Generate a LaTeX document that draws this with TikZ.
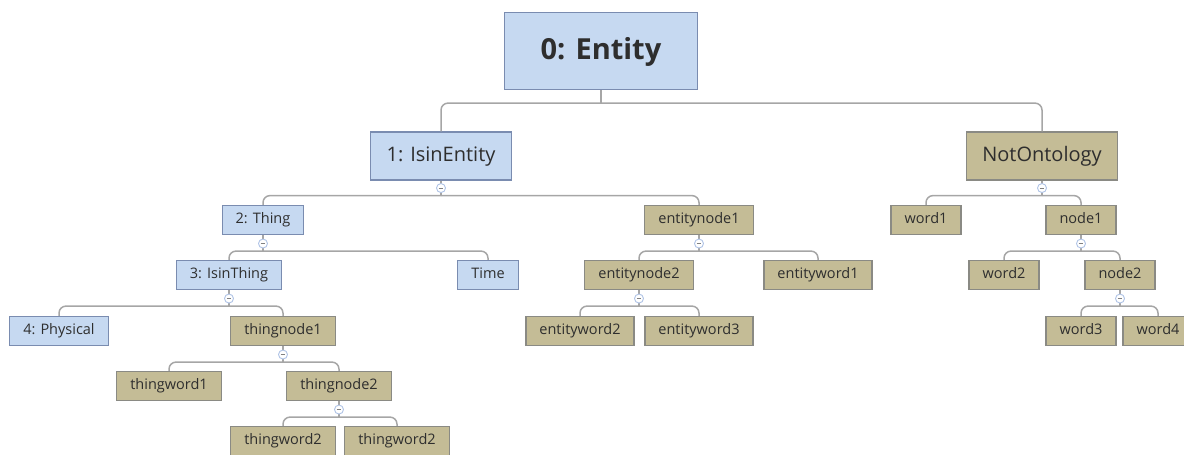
\documentclass[tikz,border=0pt]{standalone}
\usepackage{fontspec}
\setmainfont{Open Sans}
\usetikzlibrary{positioning}

\definecolor{bluefill}{HTML}{C6D9F1}
\definecolor{blueline}{HTML}{7A8CB0}
\definecolor{brownfill}{HTML}{C4BC96}
\definecolor{brownline}{HTML}{8A8A84}
\definecolor{linkgray}{HTML}{A6A6A6}
\definecolor{foldblue}{HTML}{AFC3E6}
\definecolor{txt}{HTML}{2E2E2E}

\begin{document}
\begin{tikzpicture}
  [
    x=1pt, y=1pt,
    topic/.style={draw, rectangle, line width=1.2pt, text=txt, inner ysep=0pt},
    small/.style={topic, inner xsep=13.5pt, minimum height=29pt, text height=11pt, text depth=3.5pt, font=\fontsize{14.5}{17}\selectfont},
    big/.style={topic, inner xsep=16pt, minimum height=48pt, text height=15pt, text depth=4.5pt, font=\fontsize{20}{24}\selectfont},
    root/.style={topic, inner xsep=36pt, minimum height=77pt, text height=22pt, text depth=6pt, font=\fontsize{29}{34}\selectfont\bfseries},
    cls/.style={fill=bluefill, draw=blueline},
    word/.style={fill=brownfill, draw=brownline},
    link/.style={draw=linkgray, line width=1.5pt, rounded corners=7pt},
    fold/.style={circle, draw=foldblue, fill=white, line width=0.9pt, minimum size=9pt, inner sep=0pt,
      path picture={\draw[gray, line width=0.8pt] ([xshift=-2.3pt]path picture bounding box.center) -- ([xshift=2.3pt]path picture bounding box.center);}},
    node distance=55pt
  ]
  \useasboundingbox (0,0) rectangle (1184,-455);

  % level 0 and 1
  \node (entity) [root, cls] at (601,-51) {0: Entity};
  \node (isin) [big, cls, below of=entity, node distance=105pt, xshift=-160pt] {1: IsinEntity};
  \node (notont) [big, word, below of=entity, node distance=105pt, xshift=441pt] {NotOntology};

  % level 2
  \node (thing) [small, cls, below of=isin, node distance=64pt, xshift=-178pt] {2: Thing};
  \node (enode1) [small, word, below of=isin, node distance=64pt, xshift=258pt] {entitynode1};
  \node (word1) [small, word, below of=notont, node distance=64pt, xshift=-116pt] {word1};
  \node (node1) [small, word, below of=notont, node distance=64pt, xshift=39pt] {node1};

  % level 3
  \node (isthing) [small, cls, below of=thing, xshift=-34pt] {3: IsinThing};
  \node (time) [small, cls, below of=thing, xshift=225pt] {Time};
  \node (enode2) [small, word, below of=enode1, xshift=-60pt] {entitynode2};
  \node (eword1) [small, word, below of=enode1, xshift=119pt] {entityword1};
  \node (word2) [small, word, below of=node1, xshift=-77pt] {word2};
  \node (node2) [small, word, below of=node1, xshift=39pt] {node2};

  % level 4
  \node (physical) [small, cls, below of=isthing, node distance=56pt, xshift=-170pt] {4: Physical};
  \node (tnode1) [small, word, below of=isthing, node distance=56pt, xshift=54pt] {thingnode1};
  \node (eword2) [small, word, below of=enode2, node distance=56pt, xshift=-59pt] {entityword2};
  \node (eword3) [small, word, below of=enode2, node distance=56pt, xshift=60pt] {entityword3};
  \node (word3) [small, word, below of=node2, node distance=56pt, xshift=-39pt] {word3};
  \node (word4) [small, word, below of=node2, node distance=56pt, xshift=38pt] {word4};

  % level 5 and 6
  \node (tword1) [small, word, below of=tnode1, xshift=-114pt] {thingword1};
  \node (tnode2) [small, word, below of=tnode1, xshift=56pt] {thingnode2};
  \node (tword2a) [small, word, below of=tnode2, xshift=-56pt] {thingword2};
  \node (tword2b) [small, word, below of=tnode2, xshift=58pt] {thingword2};

  % bars under each parent
  \coordinate (entity-b) at ([yshift=-13pt]entity.south);
  \coordinate (isin-b) at ([yshift=-15pt]isin.south);
  \coordinate (notont-b) at ([yshift=-15pt]notont.south);
  \coordinate (thing-b) at ([yshift=-16pt]thing.south);
  \coordinate (enode1-b) at ([yshift=-16pt]enode1.south);
  \coordinate (node1-b) at ([yshift=-16pt]node1.south);
  \coordinate (isthing-b) at ([yshift=-16pt]isthing.south);
  \coordinate (enode2-b) at ([yshift=-16pt]enode2.south);
  \coordinate (node2-b) at ([yshift=-16pt]node2.south);
  \coordinate (tnode1-b) at ([yshift=-16pt]tnode1.south);
  \coordinate (tnode2-b) at ([yshift=-16pt]tnode2.south);

  \draw [link] (entity.south) -- (entity-b);
  \draw [link] (isin.north) |- (entity-b);
  \draw [link] (notont.north) |- (entity-b);

  \draw [link] (isin.south) -- (isin-b);
  \draw [link] (thing.north) |- (isin-b);
  \draw [link] (enode1.north) |- (isin-b);

  \draw [link] (notont.south) -- (notont-b);
  \draw [link] (word1.north) |- (notont-b);
  \draw [link] (node1.north) |- (notont-b);

  \draw [link] (thing.south) -- (thing-b);
  \draw [link] (isthing.north) |- (thing-b);
  \draw [link] (time.north) |- (thing-b);

  \draw [link] (enode1.south) -- (enode1-b);
  \draw [link] (enode2.north) |- (enode1-b);
  \draw [link] (eword1.north) |- (enode1-b);

  \draw [link] (node1.south) -- (node1-b);
  \draw [link] (word2.north) |- (node1-b);
  \draw [link] (node2.north) |- (node1-b);

  \draw [link] (isthing.south) -- (isthing-b);
  \draw [link] (physical.north) |- (isthing-b);
  \draw [link] (tnode1.north) |- (isthing-b);

  \draw [link] (enode2.south) -- (enode2-b);
  \draw [link] (eword2.north) |- (enode2-b);
  \draw [link] (eword3.north) |- (enode2-b);

  \draw [link] (node2.south) -- (node2-b);
  \draw [link] (word3.north) |- (node2-b);
  \draw [link] (word4.north) |- (node2-b);

  \draw [link] (tnode1.south) -- (tnode1-b);
  \draw [link] (tword1.north) |- (tnode1-b);
  \draw [link] (tnode2.north) |- (tnode1-b);

  \draw [link] (tnode2.south) -- (tnode2-b);
  \draw [link] (tword2a.north) |- (tnode2-b);
  \draw [link] (tword2b.north) |- (tnode2-b);

  % collapse markers
  \node (isin-f) [fold, below=2.5pt of isin] {};
  \node (notont-f) [fold, below=2.5pt of notont] {};
  \node (thing-f) [fold, below=3.5pt of thing] {};
  \node (enode1-f) [fold, below=3.5pt of enode1] {};
  \node (node1-f) [fold, below=3.5pt of node1] {};
  \node (isthing-f) [fold, below=3.5pt of isthing] {};
  \node (enode2-f) [fold, below=3.5pt of enode2] {};
  \node (node2-f) [fold, below=3.5pt of node2] {};
  \node (tnode1-f) [fold, below=3.5pt of tnode1] {};
  \node (tnode2-f) [fold, below=3.5pt of tnode2] {};
\end{tikzpicture}
\end{document}
